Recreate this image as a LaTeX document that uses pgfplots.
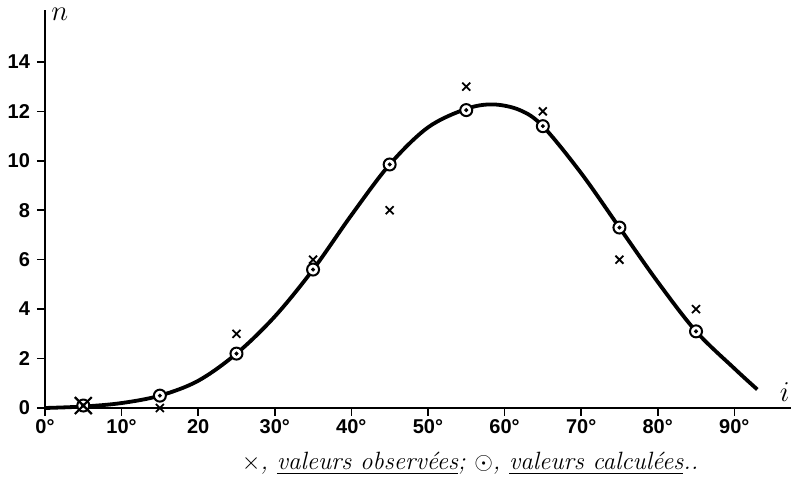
\documentclass[border=0pt]{standalone}
\usepackage{pgfplots}
\pgfplotsset{compat=1.18}
\usepackage{fontspec}
\setsansfont{Liberation Sans}
\usetikzlibrary{calc}

\begin{document}
\begin{tikzpicture}
\begin{axis}[
    name=ax,
    scale only axis,
    width=373pt, height=199pt,
    xmin=0, xmax=97.4, ymin=0, ymax=16.1,
    axis lines=left,
    axis line style={line width=0.9pt, -},
    xtick={0,10,...,90},
    xticklabels={0°,10°,20,30°,40°,50°,60°,70°,80°,90°},
    ytick={0,2,...,14},
    tick align=outside,
    major tick length=4pt,
    tick style={line width=0.8pt, black},
    ticklabel style={font=\sffamily\bfseries\fontsize{10}{12}\selectfont},
    xticklabel style={yshift=2pt},
    /pgf/number format/assume math mode=true,
    clip=false,
]
% courbe
\addplot[line width=1.9pt, smooth, tension=0.55] coordinates {
    (0,0) (5,0.06) (10,0.2) (15,0.5) (20,1.1) (25,2.2) (30,3.7)
    (35,5.6) (40,7.8) (45,9.85) (50,11.35) (55,12.1) (58.5,12.28)
    (62,12.05) (65,11.4) (70,9.5) (75,7.3) (80,5.1) (85,3.1)
    (90,1.6) (93,0.75)
};
% valeurs calculees
\addplot[only marks, mark=*, mark size=3pt,
    mark options={fill=white, draw=black, line width=1pt}] coordinates {
    (5,0.1) (15,0.5) (25,2.2) (35,5.6) (45,9.85) (55,12.05)
    (65,11.4) (75,7.3) (85,3.1)
};
\addplot[only marks, mark=*, mark size=0.8pt] coordinates {
    (5,0.1) (15,0.5) (25,2.2) (35,5.6) (45,9.85) (55,12.05)
    (65,11.4) (75,7.3) (85,3.1)
};
% valeurs observees
\addplot[only marks, mark=x, mark size=2.8pt,
    mark options={line width=0.9pt}] coordinates {
    (15,0) (25,3) (35,6) (45,8) (55,13) (65,12) (75,6) (85,4)
};
\addplot[only marks, mark=x, mark size=6pt,
    mark options={line width=1.1pt}] coordinates {(5,0.1)};
\node[anchor=north west, font=\itshape\fontsize{14}{14}\selectfont, inner sep=0pt]
    at (rel axis cs:0,1) [xshift=3pt, yshift=1pt] {$n$};
\node[anchor=east, font=\fontsize{14}{14}\selectfont, inner sep=0pt]
    at (axis cs:97.4,0) [xshift=-0.5pt, yshift=8pt] {$i$};
\node[font=\itshape\fontsize{12.5}{14}\selectfont, anchor=base]
    at (axis cs:55.5,0) [yshift=-31pt]
    {$\times$, \underline{valeurs observées}; $\odot$, \underline{valeurs calculées}..};
\end{axis}
\pgfresetboundingbox
\path[use as bounding box] ($(ax.south west)+(-22.5pt,-41.5pt)$) rectangle ($(ax.north east)+(0pt,5pt)$);
\end{tikzpicture}
\end{document}
